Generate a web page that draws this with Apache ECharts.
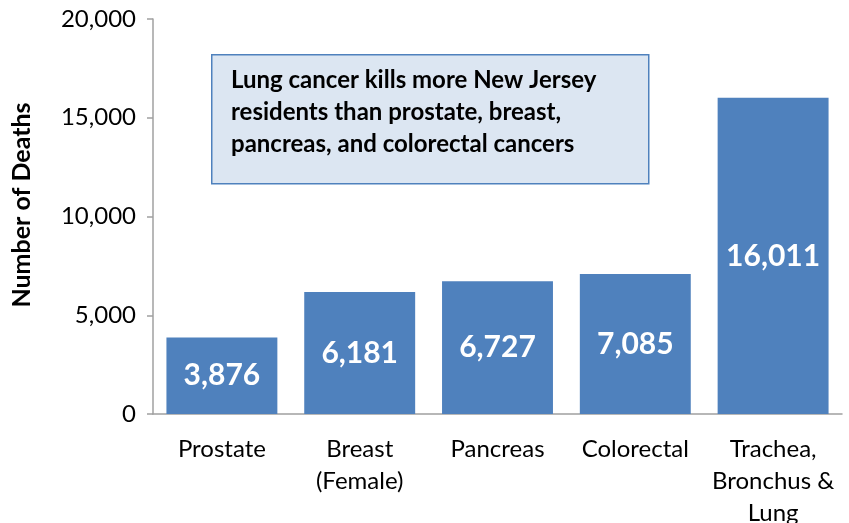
<!DOCTYPE html>
<html>
<head>
<meta charset="utf-8">
<script src="https://cdn.jsdelivr.net/npm/echarts@6/dist/echarts.min.js"></script>
<style>
  html, body { margin: 0; padding: 0; background: #fff; }
  #main { width: 849px; height: 523px; }
</style>
</head>
<body>
<div id="main"></div>
<script>
var categories = ['Prostate', 'Breast\n(Female)', 'Pancreas', 'Colorectal', 'Trachea,\nBronchus &\nLung'];
var deaths = [3876, 6181, 6727, 7085, 16011];
var yTicks = { min: 0, max: 20000, interval: 5000 };
var note = [
  'Lung cancer kills more New Jersey',
  'residents than prostate, breast,',
  'pancreas, and colorectal cancers'
];

var myChart = echarts.init(document.getElementById('main'));
var font = 'Lato, "Open Sans", sans-serif';
var option = {
  backgroundColor: '#fff',
  animation: false,
  grid: {
    left: 153,
    right: 7,
    top: 19,
    bottom: 109,
    containLabel: false,
    outerBoundsMode: 'none'
  },
  graphic: [
    {
      type: 'rect',
      left: 211,
      top: 54,
      shape: { width: 437, height: 129 },
      style: { fill: '#dce6f2', stroke: '#4f81bd', lineWidth: 1.5 },
      z: 10
    },
    {
      type: 'text',
      left: 231,
      top: 64,
      style: {
        text: note.join('\n'),
        font: 'bold 24px ' + font,
        lineHeight: 32,
        fill: '#000'
      },
      z: 11
    },
    {
      type: 'text',
      x: 22,
      y: 205,
      rotation: Math.PI / 2,
      style: {
        text: 'Number of Deaths',
        font: 'bold 25px ' + font,
        fill: '#000',
        align: 'center',
        verticalAlign: 'middle'
      }
    }
  ],
  xAxis: {
    type: 'category',
    data: categories,
    axisLine: { lineStyle: { color: '#a0a0a0', width: 1.5 } },
    axisTick: { length: 8, lineStyle: { color: '#a0a0a0', width: 1.5 } },
    axisLabel: {
      color: '#000',
      fontSize: 24,
      fontFamily: font,
      lineHeight: 32,
      margin: 19,
      interval: 0
    }
  },
  yAxis: {
    type: 'value',
    min: yTicks.min,
    max: yTicks.max,
    interval: yTicks.interval,
    axisLine: { show: true, lineStyle: { color: '#a0a0a0', width: 1.5 } },
    axisTick: { show: true, length: 6, lineStyle: { color: '#a0a0a0', width: 1.5 } },
    splitLine: { show: false },
    axisLabel: {
      color: '#000',
      fontSize: 24,
      fontFamily: font,
      margin: 17,
      formatter: function (v) { return v.toLocaleString('en-US'); }
    }
  },
  series: [{
    type: 'bar',
    data: deaths,
    barCategoryGap: '19.5%',
    itemStyle: { color: '#4f81bd' },
    label: {
      show: true,
      position: 'inside',
      color: '#fff',
      fontSize: 30,
      fontWeight: 'bold',
      fontFamily: font,
      formatter: function (p) { return p.value.toLocaleString('en-US'); }
    }
  }]
};
myChart.setOption(option);
</script>
</body>
</html>
